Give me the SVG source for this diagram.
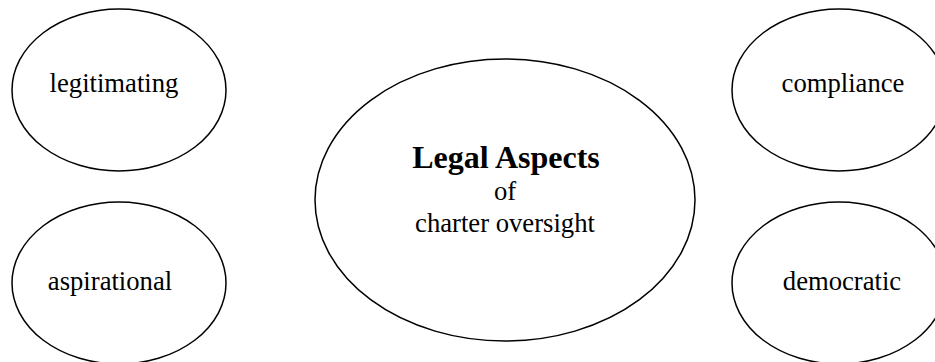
<svg xmlns="http://www.w3.org/2000/svg" width="935" height="362" viewBox="0 0 935 362">
<style>
.node ellipse{fill:#fff;stroke:#000;stroke-width:1.5}
text{font-family:"Liberation Serif","Times New Roman",serif;font-size:26.67px;fill:#000;text-anchor:middle}
.b{font-weight:bold;font-size:32px}
</style>
<rect width="935" height="362" fill="#fff"/>
<g id="connectors"/>
<g id="legitimating" class="node">
<ellipse cx="119" cy="90" rx="107" ry="81"/>
<text x="114" y="92">legitimating</text>
</g>
<g id="aspirational" class="node">
<ellipse cx="119" cy="283" rx="107" ry="81"/>
<text x="110" y="290">aspirational</text>
</g>
<g id="legal-aspects" class="node">
<ellipse cx="505" cy="200" rx="190" ry="141"/>
<text x="506" y="168" class="b">Legal Aspects</text>
<text x="505" y="200">of</text>
<text x="505" y="232">charter oversight</text>
</g>
<g id="compliance" class="node">
<ellipse cx="839" cy="90" rx="107" ry="81"/>
<text x="843" y="92">compliance</text>
</g>
<g id="democratic" class="node">
<ellipse cx="839" cy="283" rx="107" ry="81"/>
<text x="842" y="290">democratic</text>
</g>
</svg>
